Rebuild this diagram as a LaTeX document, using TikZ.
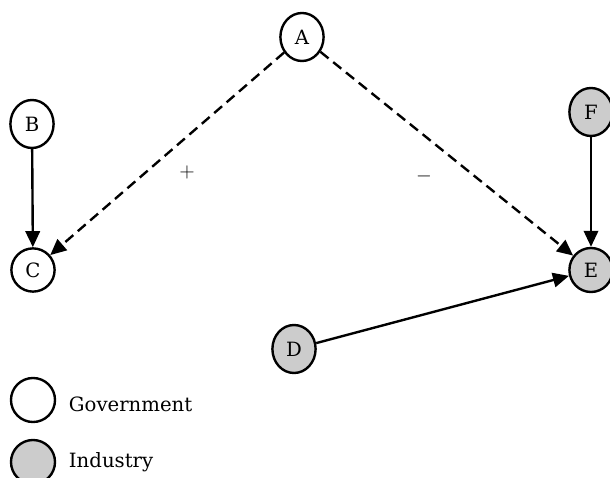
\documentclass[tikz,border=0pt]{standalone}
\usepackage{fontspec}
\setmainfont{DejaVu Serif}
\usetikzlibrary{shapes.geometric,arrows.meta}

\begin{document}
\begin{tikzpicture}[x=0.025cm,y=-0.025cm,
		gov/.style={draw, ellipse, line width=1.7pt, fill=white, minimum width=1.08cm, minimum height=1.2cm, inner sep=0pt, font=\fontsize{14}{16}\selectfont},
		ind/.style={gov, fill=black!20},
		link/.style={line width=1.7pt, -{Triangle[length=0.4cm,width=0.36cm]}},
		hint/.style={link, dash pattern=on 0.26cm off 0.15cm}]
	\useasboundingbox (0,0) rectangle (610,478);
	% actors
	\node[gov] (a) at (302,37) {A};
	\node[gov] (b) at (32,124) {B};
	\node[gov, minimum height=1.08cm] (c) at (33,270) {C};
	\node[ind] (f) at (591,112) {F};
	\node[ind, minimum height=1.1cm] (e) at (591,270) {E};
	\node[ind] (d) at (294,349) {D};
	% influences
	\draw[link] (b) -- (c);
	\draw[link] (f) -- (e);
	\draw[link] (d) -- (e);
	\draw[hint] (a) -- (c);
	\draw[hint] (a) -- (e);
	\node[font=\Large] (plus) at (187,172) {$+$};
	\node[font=\Large] (minus) at (424,176) {$-$};
	% legend
	\node[gov, minimum width=1.1cm, minimum height=1.1cm] (lgov) at (33,400) {};
	\node[anchor=west, font=\fontsize{14}{16}\selectfont] (tgov) at (64,404) {Government};
	\node[ind, minimum width=1.1cm, minimum height=1.1cm] (lind) at (33,462) {};
	\node[anchor=west, font=\fontsize{14}{16}\selectfont] (tind) at (64,462) {Industry};
\end{tikzpicture}
\end{document}
